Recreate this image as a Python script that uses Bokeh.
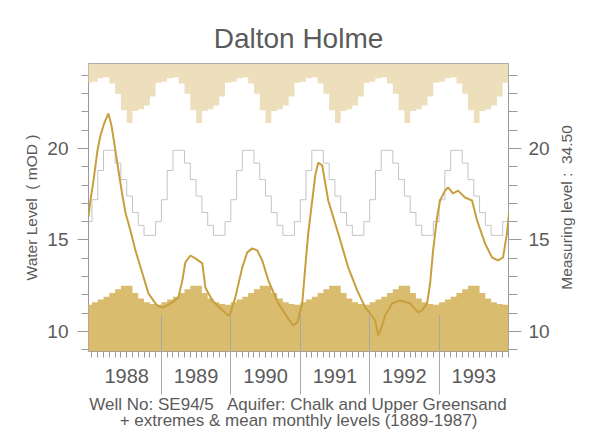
import math
from bokeh.plotting import figure
from bokeh.layouts import row
from bokeh.models import Range1d, FixedTicker, LinearAxis, Title
from bokeh.embed import file_html
from bokeh.resources import INLINE

# ---------------- data ----------------
YEARS = [1988, 1989, 1990, 1991, 1992, 1993]
YEAR_LABELS = ["1988", "1989", "1990", "1991", "1992", "1993"]

# long-term monthly statistics (Jan..Dec), mOD
MONTHLY_MAX = [23.65, 23.85, 23.9, 23.55, 23.0, 22.1, 21.4, 22.05, 22.15, 22.35, 22.85, 23.6]
MONTHLY_MEAN = [17.2, 18.8, 19.9, 19.9, 19.2, 18.3, 17.4, 16.5, 15.8, 15.25, 15.25, 16.0]
MONTHLY_MIN = [11.6, 11.75, 11.9, 12.1, 12.3, 12.5, 12.5, 12.1, 11.8, 11.6, 11.5, 11.45]

# observed water level 1988-1993 (decimal year, mOD)
LEVEL_T = [1987.950, 1987.978, 1988.022, 1988.079, 1988.122, 1988.180, 1988.237, 1988.281,
           1988.338, 1988.381, 1988.439, 1988.482, 1988.554, 1988.626, 1988.727, 1988.813,
           1988.914, 1988.957, 1989.029, 1989.158, 1989.245, 1989.302, 1989.345, 1989.417,
           1989.489, 1989.590, 1989.633, 1989.734, 1989.878, 1989.964, 1989.993, 1990.065,
           1990.165, 1990.237, 1990.309, 1990.381, 1990.453, 1990.540, 1990.683, 1990.813,
           1990.899, 1990.957, 1991.029, 1991.072, 1991.115, 1991.173, 1991.216, 1991.259,
           1991.317, 1991.403, 1991.547, 1991.691, 1991.820, 1991.935, 1992.007, 1992.079,
           1992.122, 1992.165, 1992.223, 1992.324, 1992.439, 1992.583, 1992.698, 1992.755,
           1992.827, 1992.871, 1992.914, 1992.971, 1993.014, 1993.086, 1993.129, 1993.201,
           1993.273, 1993.374, 1993.475, 1993.547, 1993.662, 1993.763, 1993.849, 1993.921,
           1993.978, 1994.007]
LEVEL_V = [16.28, 17.16, 18.25, 19.89, 20.71, 21.42, 21.91, 21.26,
           19.89, 18.80, 17.43, 16.50, 15.52, 14.43, 13.17, 12.08,
           11.53, 11.37, 11.31, 11.58, 11.86, 12.79, 13.77, 14.15,
           13.99, 13.72, 12.40, 11.69, 11.15, 10.87, 10.98, 11.86,
           13.50, 14.32, 14.54, 14.43, 13.88, 12.79, 11.53, 10.77,
           10.33, 10.49, 11.53, 13.50, 15.36, 17.16, 18.52, 19.23,
           19.07, 17.16, 15.36, 13.50, 12.24, 11.31, 10.98, 10.60,
           9.78, 10.16, 10.87, 11.53, 11.69, 11.53, 11.04, 11.15,
           11.53, 12.62, 14.43, 16.23, 17.16, 17.70, 17.87, 17.54,
           17.70, 17.32, 17.16, 16.07, 14.81, 14.04, 13.88, 14.04,
           15.36, 16.50]

Y_MAJOR = [10, 15, 20]
Y_LABEL_LEFT = "Water Level\u00a0 ( mOD )"
Y_LABEL_RIGHT = "Measuring level :\u00a0 34.50"
FOOT_1 = "Well No: SE94/5 \u00a0 Aquifer: Chalk and Upper Greensand"
FOOT_2 = "+ extremes & mean monthly levels (1889-1987)"

# ---------------- helpers ----------------
X_START, X_END = 1987.95, 1994.0
Y_START, Y_END = 8.9, 24.65

month_x = [YEARS[0] - 1 + 11 / 12] + [y + m / 12 for y in YEARS for m in range(12)] + [YEARS[-1] + 1]


def monthly_series(vals):
    return [vals[11]] + vals * len(YEARS) + [vals[0]]


def step_xy(xs, vs):
    sx, sy = [], []
    for i in range(len(xs) - 1):
        sx += [xs[i], xs[i + 1]]
        sy += [vs[i], vs[i]]
    return sx, sy


mx_x, mx_y = step_xy(month_x, monthly_series(MONTHLY_MAX))
mn_x, mn_y = step_xy(month_x, monthly_series(MONTHLY_MIN))
me_x, me_y = step_xy(month_x, monthly_series(MONTHLY_MEAN))

FONT = "Liberation Sans"
TXT = "#5b5b5b"
TICK = "#9a9a9a"
TOP, BOTTOM = 63, 93

p = figure(width=552, height=444,
           x_range=Range1d(X_START, X_END), y_range=Range1d(Y_START, Y_END),
           output_backend="svg", toolbar_location=None,
           min_border_left=88, min_border_right=43, min_border_top=TOP, min_border_bottom=BOTTOM,
           background_fill_color="white", border_fill_color="white")
p.xgrid.visible = False
p.ygrid.visible = False
p.outline_line_color = "#9a9a9a"
p.outline_line_width = 1

# title
p.title.text = "Dalton Holme"
p.title.align = "center"
p.title.text_font = FONT
p.title.text_font_size = "28px"
p.title.text_font_style = "normal"
p.title.text_color = TXT
p.title.standoff = 20

# bands, mean, observed level
p.varea(x=mx_x, y1=mx_y, y2=[Y_END] * len(mx_x), fill_color="#eddfbb")
p.varea(x=mn_x, y1=[Y_START] * len(mn_x), y2=mn_y, fill_color="#d9bc6d")
p.line(me_x, me_y, line_color="#c4c4c4", line_width=1)
p.line(LEVEL_T, LEVEL_V, line_color="#c89f3e", line_width=2)

# x axis (labels at mid-year, monthly minor ticks)
xa = p.xaxis[0]
xa.ticker = FixedTicker(ticks=[y + 0.5 for y in YEARS], minor_ticks=month_x)
xa.major_label_overrides = {y + 0.5: lab for y, lab in zip(YEARS, YEAR_LABELS)}
xa.major_tick_out = 6
xa.major_tick_in = 0
xa.minor_tick_out = 6
xa.minor_tick_in = 0
xa.major_tick_line_color = TICK
xa.minor_tick_line_color = TICK
xa.axis_line_color = None
xa.major_label_standoff = 11
xa.major_label_text_font = FONT
xa.major_label_text_font_size = "20px"
xa.major_label_text_color = TXT

# year separators: a label-less axis whose (minor) ticks reach up into the plot
sep = LinearAxis(ticker=FixedTicker(ticks=[], minor_ticks=YEARS[1:]))
sep.minor_tick_in = 71
sep.minor_tick_out = 9
sep.major_tick_in = 0
sep.major_tick_out = 0
sep.minor_tick_line_color = "#a8a8a8"
sep.axis_line_color = None
sep.major_label_standoff = 0
p.add_layout(sep, "below")

# footnotes
for txt, so in [(FOOT_1, -4), (FOOT_2, -6)]:
    p.add_layout(Title(text=txt, align="center", text_font=FONT, text_font_size="17px",
                       text_font_style="normal", text_color=TXT, standoff=so, offset=0),
                 "below")


# y axes
def style_y(ax, tick_out, minor_out, standoff):
    ax.ticker = FixedTicker(ticks=Y_MAJOR, minor_ticks=list(range(9, 25)))
    ax.major_tick_out = tick_out
    ax.major_tick_in = 0
    ax.minor_tick_out = minor_out
    ax.minor_tick_in = 0
    ax.major_tick_line_color = TICK
    ax.minor_tick_line_color = TICK
    ax.axis_line_color = None
    ax.major_label_standoff = standoff
    ax.major_label_text_font = FONT
    ax.major_label_text_font_size = "19px"
    ax.major_label_text_color = TXT
    ax.axis_label_text_font = FONT
    ax.axis_label_text_font_size = "15.5px"
    ax.axis_label_text_font_style = "normal"
    ax.axis_label_text_color = TXT


ya = p.yaxis[0]
style_y(ya, 11, 7, 9)
ya.axis_label = Y_LABEL_LEFT
ya.axis_label_standoff = 4

yr = LinearAxis()
style_y(yr, 13, 9, 7)
p.add_layout(yr, "right")

# narrow companion panel carrying the right-hand label (reads bottom-to-top)
q = figure(width=38, height=444, output_backend="svg", toolbar_location=None,
           x_range=Range1d(0, 1), y_range=Range1d(Y_START, Y_END),
           min_border_left=30, min_border_right=0, min_border_top=TOP, min_border_bottom=BOTTOM,
           background_fill_color="white", border_fill_color="white")
q.outline_line_color = None
q.xgrid.visible = False
q.ygrid.visible = False
q.xaxis.visible = False
qa = q.yaxis[0]
qa.ticker = FixedTicker(ticks=[], minor_ticks=[])
qa.major_tick_out = 0
qa.minor_tick_out = 0
qa.major_label_standoff = 0
qa.axis_line_color = None
qa.axis_label = Y_LABEL_RIGHT
qa.axis_label_standoff = 8
qa.axis_label_text_font = FONT
qa.axis_label_text_font_size = "15.5px"
qa.axis_label_text_font_style = "normal"
qa.axis_label_text_color = TXT

layout = row(p, q, spacing=0)
open("out.html", "w").write(file_html(layout, INLINE))
